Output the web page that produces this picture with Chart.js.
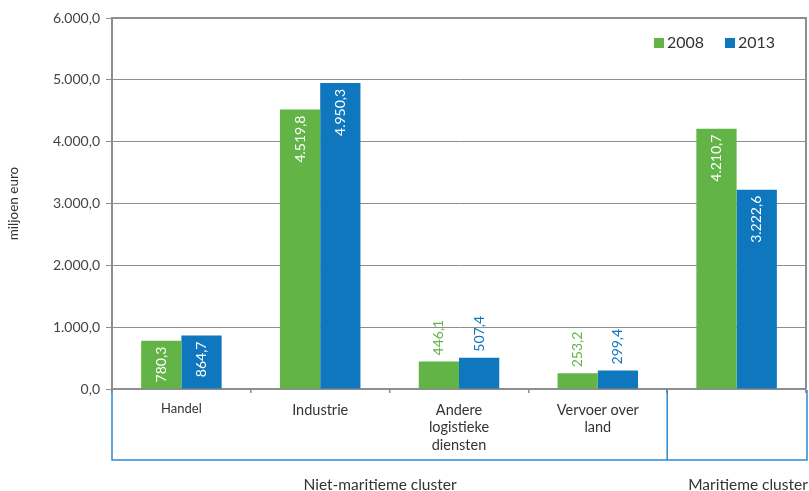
<!DOCTYPE html>
<html>
<head>
<meta charset="utf-8">
<script src="https://cdn.jsdelivr.net/npm/chart.js@4/dist/chart.umd.min.js"></script>
<style>
    html, body { margin: 0; padding: 0; background: #fff; }
    #wrap { width: 809px; height: 491px; }
</style>
</head>
<body>
<div id="wrap"><canvas id="clusterChart" width="809" height="491"></canvas></div>
<script>
const categories = ['Handel', 'Industrie', ['Andere', 'logistieke', 'diensten'], ['Vervoer over', 'land'], ''];
const values2008 = [780.3, 4519.8, 446.1, 253.2, 4210.7];
const values2013 = [864.7, 4950.3, 507.4, 299.4, 3222.6];
const yTicks = [0, 1000, 2000, 3000, 4000, 5000, 6000];
const groupLabels = ['Niet-maritieme cluster', 'Maritieme cluster'];

const GREEN = '#63b446';
const BLUE = '#0f77bd';
const FRAME = '#2b8bd3';
const GRID = '#8e8e8e';
const TEXT = '#333333';
const FONT = 'Lato, "Open Sans", sans-serif';

// dutch number format: 4.519,8
function fmt(v) {
    const parts = v.toFixed(1).split('.');
    const intPart = parts[0].replace(/\B(?=(\d{3})+(?!\d))/g, '.');
    return intPart + ',' + parts[1];
}

// value labels, rotated, inside tall bars and above short ones
const barLabels = {
    id: 'barLabels',
    afterDatasetsDraw(chart) {
        const ctx = chart.ctx;
        ctx.save();
        ctx.font = '14px ' + FONT;
        ctx.textBaseline = 'middle';
        chart.data.datasets.forEach((ds, di) => {
            const meta = chart.getDatasetMeta(di);
            meta.data.forEach((bar, i) => {
                const v = ds.data[i];
                const txt = fmt(v);
                const w = ctx.measureText(txt).width;
                const h = bar.base - bar.y;
                ctx.save();
                if (h > w + 12) {
                    ctx.translate(bar.x, bar.y + 6);
                    ctx.rotate(-Math.PI / 2);
                    ctx.textAlign = 'right';
                    ctx.fillStyle = '#ffffff';
                } else {
                    ctx.translate(bar.x, bar.y - 6);
                    ctx.rotate(-Math.PI / 2);
                    ctx.textAlign = 'left';
                    ctx.fillStyle = ds.backgroundColor;
                }
                ctx.fillText(txt, 0, 0);
                ctx.restore();
            });
        });
        ctx.restore();
    }
};

// plot frame, legend and the cluster box under the axis
const decorations = {
    id: 'decorations',
    afterDraw(chart) {
        const ctx = chart.ctx;
        const a = chart.chartArea;
        const xs = chart.scales.x;
        ctx.save();

        // top and right frame
        ctx.strokeStyle = GRID;
        ctx.lineWidth = 2;
        ctx.beginPath();
        ctx.moveTo(a.left, a.top);
        ctx.lineTo(a.right, a.top);
        ctx.lineTo(a.right, a.bottom);
        ctx.stroke();

        // cluster box
        const boxBottom = 460;
        const split = (xs.getPixelForValue(3) + xs.getPixelForValue(4)) / 2;
        const boxRight = a.right + 1;
        ctx.strokeStyle = FRAME;
        ctx.lineWidth = 1.5;
        ctx.beginPath();
        ctx.moveTo(a.left, a.bottom + 1);
        ctx.lineTo(a.left, boxBottom);
        ctx.lineTo(boxRight, boxBottom);
        ctx.lineTo(boxRight, a.bottom + 1);
        ctx.moveTo(split, a.bottom + 1);
        ctx.lineTo(split, boxBottom);
        ctx.stroke();

        ctx.fillStyle = TEXT;
        ctx.font = '15.5px ' + FONT;
        ctx.textAlign = 'center';
        ctx.textBaseline = 'middle';
        ctx.fillText(groupLabels[0], 380, 485);
        ctx.fillText(groupLabels[1], 748, 485);

        // legend
        let lx = 654;
        const ly = 43;
        ctx.font = '16px ' + FONT;
        ctx.textAlign = 'left';
        chart.data.datasets.forEach(ds => {
            ctx.fillStyle = ds.backgroundColor;
            ctx.fillRect(lx, ly - 5, 10, 10);
            ctx.fillStyle = TEXT;
            ctx.fillText(ds.label, lx + 13, ly);
            lx += 71;
        });
        ctx.restore();
    }
};

const ctx = document.getElementById('clusterChart').getContext('2d');
new Chart(ctx, {
    type: 'bar',
    data: {
        labels: categories,
        datasets: [
            { label: '2008', data: values2008, backgroundColor: GREEN, categoryPercentage: 0.58, barPercentage: 1.0 },
            { label: '2013', data: values2013, backgroundColor: BLUE, categoryPercentage: 0.58, barPercentage: 1.0 }
        ]
    },
    options: {
        responsive: false,
        animation: false,
        layout: { padding: { top: 18, right: 3, left: 0, bottom: 0 } },
        plugins: {
            legend: { display: false },
            tooltip: { enabled: false }
        },
        scales: {
            x: {
                afterFit(scale) { scale.height = 102; },
                grid: {
                    offset: true,
                    drawOnChartArea: false,
                    drawTicks: true,
                    tickLength: 4,
                    color: GRID,
                    lineWidth: 1.5
                },
                border: { display: true, color: GRID, width: 2 },
                ticks: {
                    padding: 8,
                    color: TEXT,
                    maxRotation: 0,
                    autoSkip: false,
                    font: c => ({ family: FONT, size: c.index === 0 ? 13 : 14.5, lineHeight: 1.22 })
                }
            },
            y: {
                min: 0,
                max: 6000,
                afterFit(scale) { scale.width = 112; },
                afterBuildTicks(scale) { scale.ticks = yTicks.map(v => ({ value: v })); },
                grid: { color: GRID, lineWidth: 1, drawTicks: true, tickLength: 6 },
                border: { display: true, color: GRID, width: 2 },
                ticks: {
                    padding: 6,
                    color: '#444444',
                    font: { family: FONT, size: 14 },
                    callback: v => fmt(v)
                },
                title: {
                    display: true,
                    text: 'miljoen euro',
                    color: TEXT,
                    padding: { top: 6, bottom: 0 },
                    font: { family: FONT, size: 13.5 }
                }
            }
        }
    },
    plugins: [barLabels, decorations]
});
</script>
</body>
</html>
